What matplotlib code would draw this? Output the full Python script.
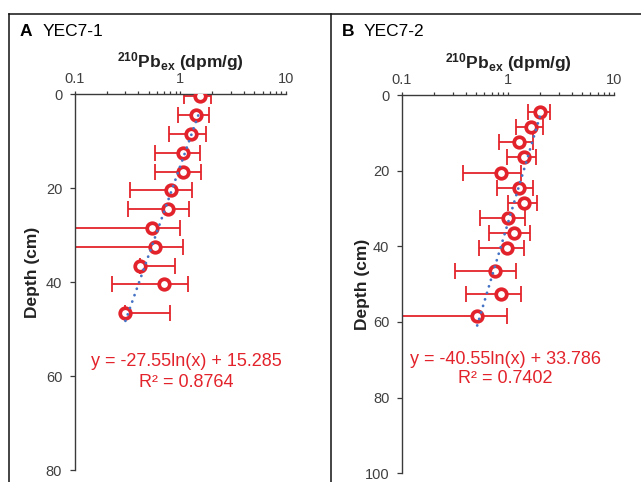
import numpy as np
import matplotlib
matplotlib.use("Agg")
import matplotlib.pyplot as plt
from matplotlib.lines import Line2D
from matplotlib.ticker import LogLocator, NullFormatter, FixedLocator

plt.rcParams['font.family'] = ['Liberation Sans', 'DejaVu Sans']
plt.rcParams['mathtext.fontset'] = 'custom'
plt.rcParams['mathtext.rm'] = 'Liberation Sans'
plt.rcParams['mathtext.bf'] = 'Liberation Sans:bold'
plt.rcParams['mathtext.it'] = 'Liberation Sans:italic'

# ---------------- data ----------------
depth_A = [0.5, 4.5, 8.5, 12.5, 16.5, 20.5, 24.5, 28.5, 32.5, 36.5, 40.5, 46.5]
pb_A = [1.53, 1.41, 1.26, 1.06, 1.07, 0.817, 0.77, 0.537, 0.576, 0.416, 0.706, 0.302]
err_A = [0.44, 0.47, 0.48, 0.48, 0.49, 0.48, 0.45, 0.46, 0.49, 0.48, 0.48, 0.50]

depth_B = [4.5, 8.5, 12.5, 16.5, 20.5, 24.5, 28.5, 32.5, 36.5, 40.5, 46.5, 52.5, 58.5]
pb_B = [2.01, 1.65, 1.28, 1.41, 0.85, 1.26, 1.43, 1.0, 1.13, 0.97, 0.757, 0.863, 0.512]
err_B = [0.47, 0.47, 0.45, 0.43, 0.47, 0.48, 0.44, 0.45, 0.47, 0.44, 0.44, 0.46, 0.46]

fit_A = (-27.55, 15.285, 0.8764)
fit_B = (-40.55, 33.786, 0.7402)

titles = [("A", "YEC7-1"), ("B", "YEC7-2")]
yticks_A = [0, 20, 40, 60, 80]
yticks_B = [0, 20, 40, 60, 80, 100]
xticks = [0.1, 1, 10]
xticklabels = ["0.1", "1", "10"]
# --------------------------------------

W, H = 641, 482
fig = plt.figure(figsize=(W / 100, H / 100), dpi=100)
fig.patch.set_facecolor('white')

RED = '#E3232B'
BLUE = '#4472C4'
AXC = '#3a3a3a'
TXT = '#404040'


def px_axes(x0, y0, x1, y1):
    return [x0 / W, 1 - y1 / H, (x1 - x0) / W, (y1 - y0) / H]


def draw_panel(rect, depth, pb, err, fit, yticks, eq_pos, r2_pos, ylab_pos):
    ax = fig.add_axes(rect)
    pb = np.array(pb)
    err = np.array(err)
    depth = np.array(depth)
    minus = np.where(pb - err > 0, err, 0.0)
    ax.errorbar(pb, depth, xerr=[minus, err], fmt='none', ecolor=RED,
                elinewidth=1.3, capsize=6, capthick=1.3, zorder=2)
    a, b, r2 = fit
    xs = np.geomspace(pb.min(), pb.max(), 200)
    ax.plot(xs, a * np.log(xs) + b, color=BLUE, lw=2.0,
            linestyle=(0, (0.05, 2.4)), dash_capstyle='round', zorder=4)
    ax.plot(pb, depth, 'o', ms=7.6, mfc='white', mec=RED, mew=2.7,
            zorder=3)
    ax.set_xscale('log')
    ax.set_xlim(0.1, 10)
    ax.set_ylim(yticks[-1], 0)
    ax.set_yticks(yticks)
    ax.xaxis.set_major_locator(FixedLocator(xticks))
    ax.set_xticklabels(xticklabels)
    ax.xaxis.set_minor_locator(LogLocator(base=10, subs=np.arange(2, 10)))
    ax.xaxis.set_minor_formatter(NullFormatter())
    ax.xaxis.tick_top()
    ax.xaxis.set_label_position('top')
    for s in ['right', 'bottom']:
        ax.spines[s].set_visible(False)
    for s in ['left', 'top']:
        ax.spines[s].set_color(AXC)
        ax.spines[s].set_linewidth(1.0)
    ax.tick_params(axis='x', which='both', direction='out', length=2.5,
                   width=0.9, color=AXC, pad=3.5, labelsize=10.5,
                   labelcolor=TXT)
    ax.tick_params(axis='y', which='major', direction='out', length=3.5,
                   width=0.9, color=AXC, pad=5.5, labelsize=10.5,
                   labelcolor=TXT)
    ax.set_xlabel(r'$\mathbf{^{210}Pb_{ex}}$ (dpm/g)', fontsize=12.5,
                  fontweight='bold', labelpad=3, color='#222222')
    ax.set_ylabel('Depth (cm)', fontsize=12.5, fontweight='bold',
                  color='#222222', va='center')
    x0 = rect[0] * W
    w = rect[2] * W
    y1 = (1 - rect[1]) * H
    h = rect[3] * H
    ax.yaxis.set_label_coords((ylab_pos[0] - x0) / w,
                              (y1 - ylab_pos[1]) / h)
    ax.patch.set_alpha(0)
    fig.text(eq_pos[0] / W, 1 - eq_pos[1] / H,
             f'y = {a}ln(x) + {b}', color=RED, fontsize=13,
             ha='center', va='center')
    fig.text(r2_pos[0] / W, 1 - r2_pos[1] / H,
             f'R² = {r2}', color=RED, fontsize=13,
             ha='center', va='center')
    return ax


draw_panel(px_axes(74.7, 94, 286, 470), depth_A, pb_A, err_A, fit_A,
           yticks_A, (186.7, 361.7), (186.7, 382.3), (33, 272))
draw_panel(px_axes(402, 95, 614, 473.3), depth_B, pb_B, err_B, fit_B,
           yticks_B, (505.3, 359.3), (505.0, 378.3), (362, 284))

# panel frames
ytop = 1 - 14 / H
fig.add_artist(Line2D([9.3 / W, 1.0], [ytop, ytop], transform=fig.transFigure,
                      color='#111111', lw=1.1))
for xf in [9.3 / W, 331 / W]:
    fig.add_artist(Line2D([xf, xf], [0, ytop], transform=fig.transFigure,
                          color='#111111', lw=1.1))

# panel titles
for (letter, name), xl, xn in zip(titles, [19.5, 341.7], [42.7, 363.3]):
    fig.text(xl / W, 1 - 36 / H, letter, fontsize=12.5, fontweight='bold',
             va='baseline', ha='left', color='black')
    fig.text(xn / W, 1 - 36 / H, name, fontsize=12.5, va='baseline',
             ha='left', color='black')

fig.savefig('out.png', dpi=100, facecolor='white')
